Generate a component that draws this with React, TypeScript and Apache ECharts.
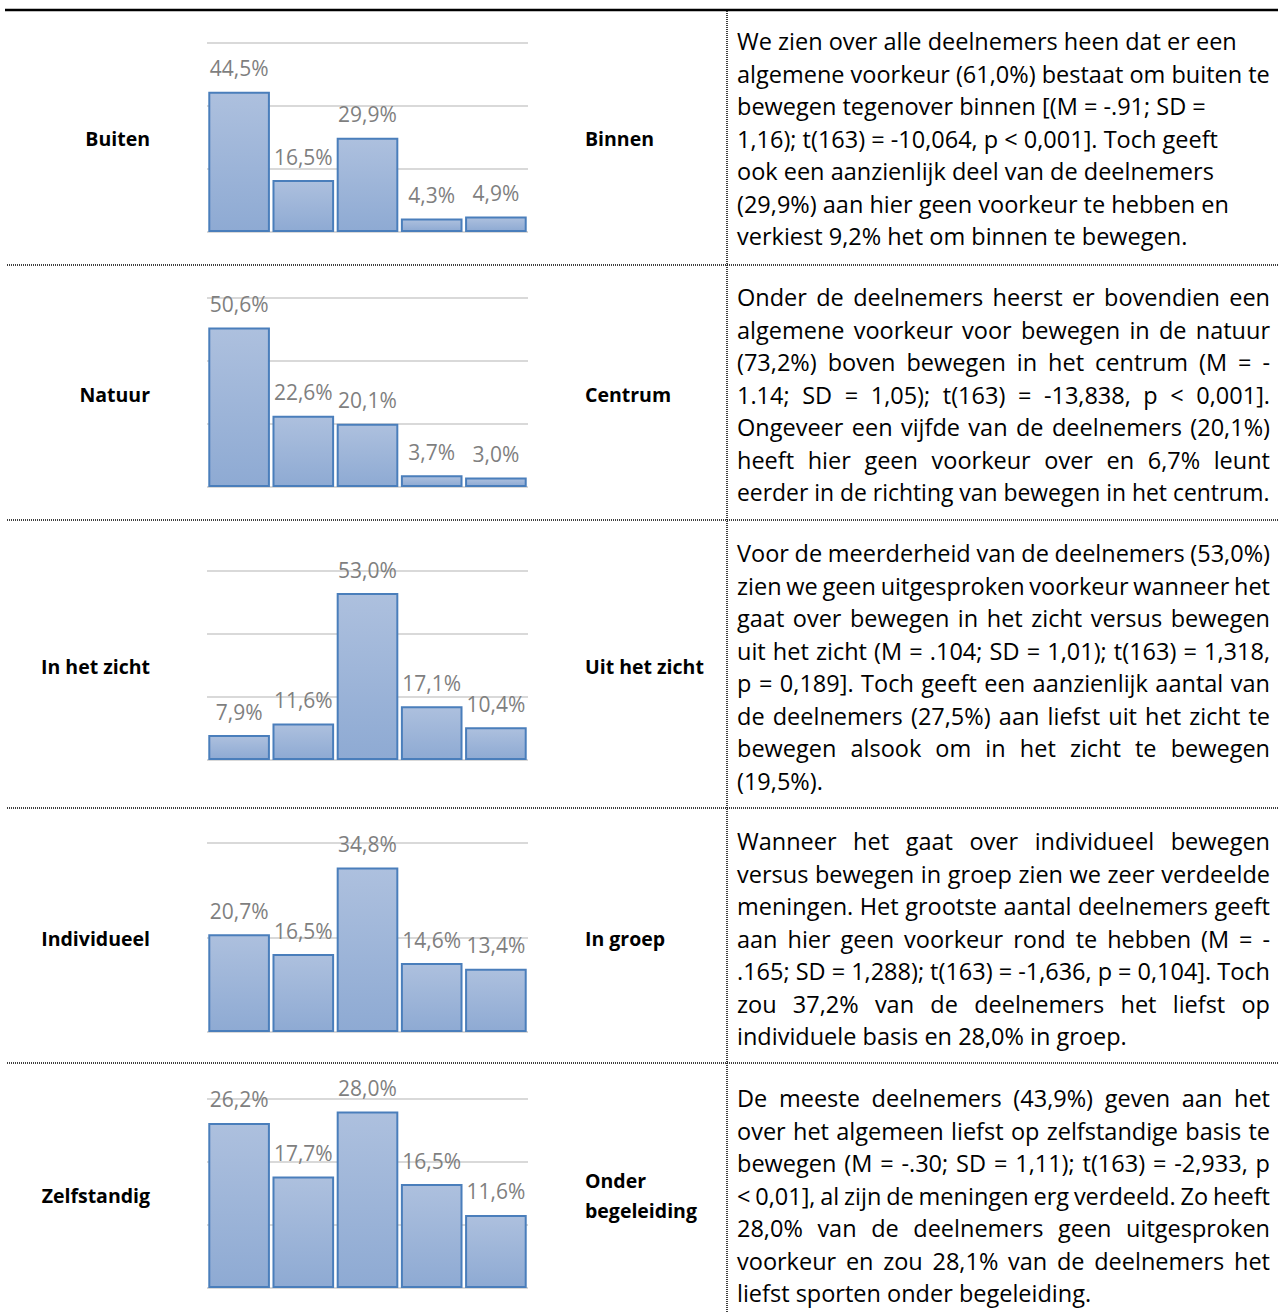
import React, { useEffect, useRef } from "react";
import * as echarts from "echarts";

// ---- data ----
const categories = ["1", "2", "3", "4", "5"];
const buitenBinnen = [44.5, 16.5, 29.9, 4.3, 4.9];
const natuurCentrum = [50.6, 22.6, 20.1, 3.7, 3.0];
const zichtValues = [7.9, 11.6, 53.0, 17.1, 10.4];
const individueelGroep = [20.7, 16.5, 34.8, 14.6, 13.4];
const zelfstandigBegeleiding = [26.2, 17.7, 28.0, 16.5, 11.6];
const seriesList = [buitenBinnen, natuurCentrum, zichtValues, individueelGroep, zelfstandigBegeleiding];
const axisMax = [60, 60, 60, 40, 30];
const axisInterval = [20, 20, 20, 20, 10];

const leftLabels = ["Buiten", "Natuur", "In het zicht", "Individueel", "Zelfstandig"];
const rightLabels = ["Binnen", "Centrum", "Uit het zicht", "In groep", "Onder\nbegeleiding"];

const paragraph1 = [
  "We zien over alle deelnemers heen dat er een",
  "algemene voorkeur (61,0%) bestaat om buiten te",
  "bewegen tegenover binnen [(M = -.91; SD =",
  "1,16); t(163) = -10,064, p < 0,001]. Toch geeft",
  "ook een aanzienlijk deel van de deelnemers",
  "(29,9%) aan hier geen voorkeur te hebben en",
  "verkiest 9,2% het om binnen te bewegen.",
];
const paragraph2 = [
  "Onder de deelnemers heerst er bovendien een",
  "algemene voorkeur voor bewegen in de natuur",
  "(73,2%) boven bewegen in het centrum (M = -",
  "1.14; SD = 1,05); t(163) = -13,838, p < 0,001].",
  "Ongeveer een vijfde van de deelnemers (20,1%)",
  "heeft hier geen voorkeur over en 6,7% leunt",
  "eerder in de richting van bewegen in het centrum.",
];
const paragraph3 = [
  "Voor de meerderheid van de deelnemers (53,0%)",
  "zien we geen uitgesproken voorkeur wanneer het",
  "gaat over bewegen in het zicht versus bewegen",
  "uit het zicht (M = .104; SD = 1,01); t(163) = 1,318,",
  "p = 0,189]. Toch geeft een aanzienlijk aantal van",
  "de deelnemers (27,5%) aan liefst uit het zicht te",
  "bewegen alsook om in het zicht te bewegen",
  "(19,5%).",
];
const paragraph4 = [
  "Wanneer het gaat over individueel bewegen",
  "versus bewegen in groep zien we zeer verdeelde",
  "meningen. Het grootste aantal deelnemers geeft",
  "aan hier geen voorkeur rond te hebben (M = -",
  ".165; SD = 1,288); t(163) = -1,636, p = 0,104]. Toch",
  "zou 37,2% van de deelnemers het liefst op",
  "individuele basis en 28,0% in groep.",
];
const paragraph5 = [
  "De meeste deelnemers (43,9%) geven aan het",
  "over het algemeen liefst op zelfstandige basis te",
  "bewegen (M = -.30; SD = 1,11); t(163) = -2,933, p",
  "< 0,01], al zijn de meningen erg verdeeld. Zo heeft",
  "28,0% van de deelnemers geen uitgesproken",
  "voorkeur en zou 28,1% van de deelnemers het",
  "liefst sporten onder begeleiding.",
];
const paragraphs = [paragraph1, paragraph2, paragraph3, paragraph4, paragraph5];
const justified = [false, true, true, true, true];

// ---- layout ----
const W = 1278;
const H = 1312;
const gridTops = [43, 298, 571, 843, 1099];
const gridHeight = 189;
const gridLeft = 207;
const gridWidth = 321;
const labelY = [138, 394, 666, 938, 1195];
const textTops = [41, 297, 553, 841, 1098];
const lineStep = 32.5;
const textLeft = 737;
const textRight = 1270;
const dividers = [265, 520, 808, 1063];
const TEXT_FONT = '"Open Sans", "Noto Sans", sans-serif';

function measurer() {
  const c = document.createElement("canvas");
  const ctx = c.getContext("2d")!;
  return (s: string, size: number, weight = "normal") => {
    ctx.font = `${weight} ${size}px "Open Sans"`;
    return ctx.measureText(s).width;
  };
}

export default function App() {
  const ref = useRef<HTMLDivElement>(null);
  useEffect(() => {
    if (!ref.current) return;
    const chart = echarts.init(ref.current, undefined, { renderer: "svg" });
    const measure = measurer();
    const ref100 = measure(paragraph1[0], 100);
    const fontSize = Math.round(((497 / ref100) * 100) * 2) / 2;
    const avail = textRight - textLeft;

    const graphics: any[] = [];
    // table lines
    graphics.push({
      type: "line",
      shape: { x1: 5, y1: 10, x2: W, y2: 10 },
      style: { stroke: "#000", lineWidth: 2.5 },
    });
    graphics.push({
      type: "line",
      shape: { x1: 727, y1: 11, x2: 727, y2: H },
      style: { stroke: "#000", lineWidth: 1.5, lineDash: [1, 1] },
    });
    dividers.forEach((y) =>
      graphics.push({
        type: "line",
        shape: { x1: 7, y1: y, x2: W, y2: y },
        style: { stroke: "#000", lineWidth: 1.5, lineDash: [1, 1] },
      })
    );
    // row labels
    leftLabels.forEach((t, i) =>
      graphics.push({
        type: "text",
        x: 150,
        y: labelY[i],
        style: {
          text: t,
          fill: "#000",
          fontFamily: TEXT_FONT,
          fontWeight: "bold",
          fontSize: 19.5,
          align: "right",
          verticalAlign: "middle",
        },
      })
    );
    rightLabels.forEach((t, i) =>
      graphics.push({
        type: "text",
        x: 585,
        y: labelY[i],
        style: {
          text: t,
          fill: "#000",
          fontFamily: TEXT_FONT,
          fontWeight: "bold",
          fontSize: 19.5,
          lineHeight: 30,
          align: "left",
          verticalAlign: "middle",
        },
      })
    );
    // paragraphs
    paragraphs.forEach((lines, r) => {
      lines.forEach((line, li) => {
        const y = textTops[r] + li * lineStep;
        const isLast = li === lines.length - 1;
        const natural = measure(line, fontSize);
        const baseStyle = {
          fill: "#000",
          fontFamily: TEXT_FONT,
          fontSize,
          align: "left",
          verticalAlign: "middle",
        };
        if (justified[r] && !isLast) {
          const words = line.split(" ");
          const widths = words.map((w) => measure(w, fontSize));
          const total = widths.reduce((a, b) => a + b, 0);
          let gap = (avail - total) / (words.length - 1);
          const minGap = measure(" ", fontSize) * 0.6;
          let sx = 1;
          if (gap < minGap) {
            gap = minGap;
            sx = avail / (total + gap * (words.length - 1));
          }
          let x = textLeft;
          words.forEach((w, wi) => {
            graphics.push({
              type: "text",
              x,
              y,
              scaleX: sx,
              style: { ...baseStyle, text: w },
            });
            x += (widths[wi] + gap) * sx;
          });
        } else {
          const sx = natural > avail ? avail / natural : 1;
          graphics.push({
            type: "text",
            x: textLeft,
            y,
            scaleX: sx,
            style: { ...baseStyle, text: line },
          });
        }
      });
    });

    const grids = seriesList.map((_, i) => ({
      left: gridLeft,
      top: gridTops[i],
      width: gridWidth,
      height: gridHeight,
      containLabel: false,
    }));
    const xAxes = seriesList.map((_, i) => ({
      type: "category",
      gridIndex: i,
      data: categories,
      axisLine: { show: false },
      axisTick: { show: false },
      axisLabel: { show: false },
    }));
    const yAxes = seriesList.map((_, i) => ({
      type: "value",
      gridIndex: i,
      min: 0,
      max: axisMax[i],
      interval: axisInterval[i],
      axisLine: { show: false },
      axisTick: { show: false },
      axisLabel: { show: false },
      splitLine: { show: true, lineStyle: { color: "#d9d9d9", width: 2 } },
    }));
    const fill = new echarts.graphic.LinearGradient(0, 0, 0, 1, [
      { offset: 0, color: "#adc0de" },
      { offset: 1, color: "#8eaad3" },
    ]);
    const series = seriesList.map((vals, i) => ({
      type: "bar",
      xAxisIndex: i,
      yAxisIndex: i,
      data: vals,
      barCategoryGap: "4%",
      itemStyle: { color: fill, borderColor: "#4a7ebb", borderWidth: 2 },
      label: {
        show: true,
        position: "top",
        distance: 13,
        color: "#7f7f7f",
        fontFamily: TEXT_FONT,
        fontSize: 21,
        formatter: (p: any) => p.value.toFixed(1).replace(".", ",") + "%",
      },
    }));

    chart.setOption({
      animation: false,
      backgroundColor: "#fff",
      grid: grids,
      xAxis: xAxes,
      yAxis: yAxes,
      series,
      graphic: graphics,
    });
    return () => chart.dispose();
  }, []);
  return (
    <div
      ref={ref}
      style={{ position: "absolute", left: 0, top: 0, width: W, height: H }}
    />
  );
}
